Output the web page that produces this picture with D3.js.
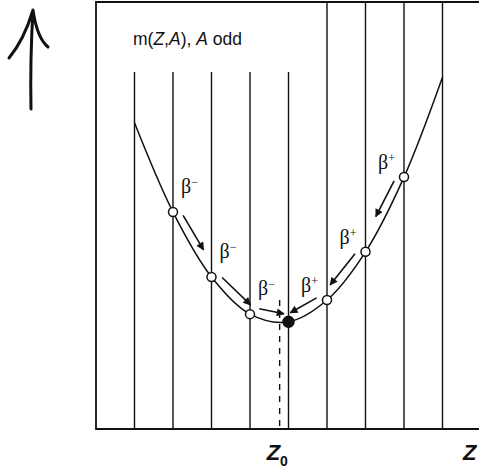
<!DOCTYPE html>
<html>
<head>
<meta charset="utf-8">
<script src="https://cdn.jsdelivr.net/npm/d3@7"></script>
<style>
  html, body { margin: 0; padding: 0; background: #fff; }
  svg { display: block; }
  .lbl { font-family: "Liberation Sans", Arial, sans-serif; fill: #111; }
  .beta { font-family: "Liberation Serif", "Times New Roman", serif; fill: #111; }
</style>
</head>
<body>
<div id="chart"></div>
<script>
// Atomic number of each isobar and its mass (arbitrary units)
const zValues = [1, 2, 3, 4, 5, 6, 7, 8, 9];
const massValues = [7.17, 5.08, 3.56, 2.69, 2.51, 3.02, 4.15, 5.90, 8.24];
const stableZ = 5;
const z0 = 4.77;
const titleMass = 8.36; // where the short isobar lines begin under the title

// Decay steps towards the stable isobar
const decays = [
  { from: 2, to: 3, sign: "−" },
  { from: 3, to: 4, sign: "−" },
  { from: 4, to: 5, sign: "−" },
  { from: 8, to: 7, sign: "+" },
  { from: 7, to: 6, sign: "+" },
  { from: 6, to: 5, sign: "+" }
];

const width = 479, height = 469;
const ink = "#111";

const svg = d3.select("#chart").append("svg")
  .attr("width", width)
  .attr("height", height);

const x = d3.scaleLinear().domain([0, 10]).range([96, 481]);
const y = d3.scaleLinear().domain([0, 10]).range([429, 2]);

const pts = zValues.map((z, i) => ({ z: z, m: massValues[i] }));
const massOf = z => pts.find(p => p.z === z).m;

// arrowhead marker
svg.append("defs").append("marker")
  .attr("id", "head")
  .attr("viewBox", "0 0 10 10")
  .attr("refX", 9).attr("refY", 5)
  .attr("markerWidth", 6).attr("markerHeight", 5)
  .attr("markerUnits", "strokeWidth")
  .attr("orient", "auto")
  .append("path")
  .attr("d", "M0,0 L10,5 L0,10 Z")
  .attr("fill", ink);

// frame (right side is cut off by the picture)
svg.append("path")
  .attr("d", `M${width},${y(10)} H${x(0)} V${y(0)} H${width}`)
  .attr("fill", "none")
  .attr("stroke", ink)
  .attr("stroke-width", 1.8);

// isobar lines
svg.selectAll("line.iso")
  .data(zValues)
  .enter()
  .append("line")
  .attr("class", "iso")
  .attr("x1", d => x(d)).attr("x2", d => x(d))
  .attr("y1", d => d <= stableZ ? y(titleMass) : y(10))
  .attr("y2", y(0))
  .attr("stroke", ink)
  .attr("stroke-width", 1.4);

// Z0 dashed line
svg.append("line")
  .attr("x1", x(z0)).attr("x2", x(z0))
  .attr("y1", y(massOf(6))).attr("y2", y(0))
  .attr("stroke", ink)
  .attr("stroke-width", 1.4)
  .attr("stroke-dasharray", "6,6");

// mass parabola
const line = d3.line()
  .x(d => x(d.z))
  .y(d => y(d.m))
  .curve(d3.curveCatmullRom.alpha(0.5));

svg.append("path")
  .datum(pts)
  .attr("fill", "none")
  .attr("stroke", ink)
  .attr("stroke-width", 1.5)
  .attr("d", line);

// decay arrows, offset to the upper side of the curve
const offset = 7;
decays.forEach(dc => {
  const x0 = x(dc.from), y0 = y(massOf(dc.from));
  const x1 = x(dc.to), y1 = y(massOf(dc.to));
  const len = Math.hypot(x1 - x0, y1 - y0);
  const ux = (x1 - x0) / len, uy = (y1 - y0) / len;
  let nx = uy, ny = -ux;
  if (ny > 0) { nx = -nx; ny = -ny; }
  const s0 = 8, s1 = s0 + Math.min(40, len - 14);
  svg.append("line")
    .attr("x1", x0 + ux * s0 + nx * offset)
    .attr("y1", y0 + uy * s0 + ny * offset)
    .attr("x2", x0 + ux * s1 + nx * offset)
    .attr("y2", y0 + uy * s1 + ny * offset)
    .attr("stroke", ink)
    .attr("stroke-width", 1.6)
    .attr("marker-end", "url(#head)");

  const left = dc.sign === "−";
  const t = svg.append("text")
    .attr("class", "beta")
    .attr("x", left ? x0 + 8 : x0 - 9)
    .attr("y", left ? y0 - 19 : y0 - 8)
    .attr("text-anchor", left ? "start" : "end")
    .style("font-size", "20px");
  t.append("tspan").text("β");
  t.append("tspan").attr("dy", -7).style("font-size", "12px").text(dc.sign);
});

// nuclei markers
svg.selectAll("circle.nuc")
  .data(pts.filter(p => p.z !== 1 && p.z !== 9))
  .enter()
  .append("circle")
  .attr("class", "nuc")
  .attr("cx", d => x(d.z))
  .attr("cy", d => y(d.m))
  .attr("r", d => d.z === stableZ ? 5.5 : 4.5)
  .attr("fill", d => d.z === stableZ ? ink : "#fff")
  .attr("stroke", ink)
  .attr("stroke-width", 1.5);

// title
const title = svg.append("text")
  .attr("class", "lbl")
  .attr("x", 133).attr("y", 45)
  .style("font-size", "17.5px");
title.append("tspan").text("m(");
title.append("tspan").style("font-style", "italic").text("Z");
title.append("tspan").text(",");
title.append("tspan").style("font-style", "italic").text("A");
title.append("tspan").text("), ");
title.append("tspan").style("font-style", "italic").text("A");
title.append("tspan").text(" odd");

// axis labels
const z0lbl = svg.append("text")
  .attr("class", "lbl")
  .attr("x", x(z0) - 13).attr("y", 460)
  .style("font-size", "22px")
  .style("font-style", "italic")
  .style("font-weight", "bold");
z0lbl.append("tspan").text("Z");
z0lbl.append("tspan").attr("dy", 6).style("font-size", "14px").style("font-style", "normal").text("0");

svg.append("text")
  .attr("class", "lbl")
  .attr("x", 463).attr("y", 460)
  .style("font-size", "22px")
  .style("font-style", "italic")
  .style("font-weight", "bold")
  .text("Z");

// hand-drawn "up" arrow on the left
svg.append("path")
  .attr("d", "M31,109 Q30,60 33,10 M33,10 Q24,40 9,58 M33,10 Q37,38 48,47")
  .attr("fill", "none")
  .attr("stroke", ink)
  .attr("stroke-width", 3)
  .attr("stroke-linecap", "round");
</script>
</body>
</html>
